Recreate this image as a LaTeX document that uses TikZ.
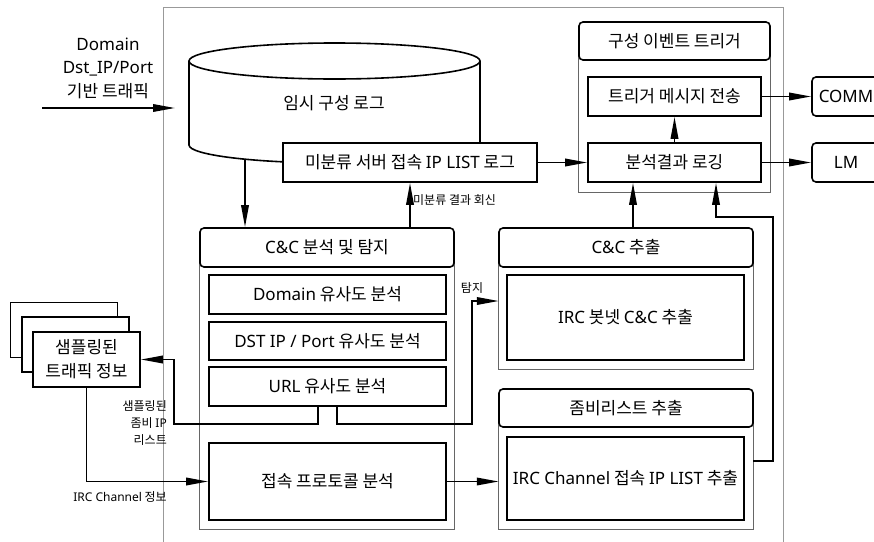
\documentclass[tikz,border=0pt]{standalone}
\usepackage{fontspec}
\setmainfont{Noto Sans CJK KR}
\newfontfamily\lat{Noto Sans}
\usetikzlibrary{arrows.meta,calc}
\begin{document}
\begin{tikzpicture}[x=1pt,y=-1pt,
  font=\fontsize{17}{22}\selectfont,
  blk/.style={line width=1.6pt},
  box/.style={draw, line width=1.6pt, fill=white, inner sep=0pt, align=center},
  hdr/.style={box, rounded corners=4pt},
  cont/.style={draw=black!60, line width=1.1pt},
  frame/.style={draw=black!40, line width=0.9pt},
  arr/.style={line width=1.8pt, -{Triangle[length=22pt,width=7.5pt]}},
  small/.style={font=\fontsize{12}{17}\selectfont, inner sep=0pt, align=center}
]
\useasboundingbox (0,0) rectangle (874,541);
\clip (0,0) rectangle (874,541);

% outer system frame (open at the bottom)
\draw[frame] (163,560) -- (163,7) -- (783,7) -- (783,560);

% temporary configuration log (cylinder)
\draw[blk, fill=white] (189,61) -- (189,145)
  arc[start angle=180, end angle=0, x radius=145.5, y radius=18] -- (480,61);
\draw[blk] (334.5,61) ellipse [x radius=145.5, y radius=18];
\node (cyl) at (334,103) {임시 구성 로그};
\coordinate (cylout) at (245,159.2);

\node[box, minimum width=254pt, minimum height=39pt] (logbox) at (410,162.5)
  {미분류 서버 접속 {\lat IP LIST} 로그};

% configuration event trigger group
\node[minimum width=191pt, minimum height=170pt, inner sep=0pt] (evt) at (674.5,107) {};
\draw[cont] ([yshift=-19pt]evt.north west) -- (evt.south west) -- (evt.south east) -- ([yshift=-19pt]evt.north east);
\node[hdr, minimum width=191pt, minimum height=38pt] (evthd) at (674.5,41) {구성 이벤트 트리거};
\node[box, minimum width=173pt, minimum height=39pt] (trig) at (674.5,96.5) {트리거 메시지 전송};
\node[box, minimum width=173pt, minimum height=39pt] (anlog) at (674.5,162.5) {분석결과 로깅};

% external modules
\node[hdr, minimum width=68pt, minimum height=39pt] (comm) at (846,96.5) {\lat COMM};
\node[hdr, minimum width=68pt, minimum height=39pt] (lm) at (846,162.5) {\lat LM};

% C&C analysis and detection group
\node[minimum width=254pt, minimum height=301pt, inner sep=0pt] (cc) at (327,378.5) {};
\draw[cont] ([yshift=-19.5pt]cc.north west) -- (cc.south west) -- (cc.south east) -- ([yshift=-19.5pt]cc.north east);
\node[hdr, minimum width=254pt, minimum height=39pt] (cchd) at (327,247.5) {{\lat C\&C} 분석 및 탐지};
\node[box, minimum width=237pt, minimum height=39pt] (domain) at (327.5,294.5) {{\lat Domain} 유사도 분석};
\node[box, minimum width=237pt, minimum height=38pt] (dst) at (327.5,341) {{\lat DST IP / Port} 유사도 분석};
\node[box, minimum width=237pt, minimum height=39pt] (url) at (327.5,386.5) {{\lat URL} 유사도 분석};
\node[box, minimum width=237pt, minimum height=77pt] (proto) at (327.5,481.5) {접속 프로토콜 분석};

% C&C extraction group
\node[minimum width=254pt, minimum height=141pt, inner sep=0pt] (cce) at (626,298.5) {};
\draw[cont] ([yshift=-19.5pt]cce.north west) -- (cce.south west) -- (cce.south east) -- ([yshift=-19.5pt]cce.north east);
\node[hdr, minimum width=254pt, minimum height=39pt] (ccehd) at (626,247.5) {{\lat C\&C} 추출};
\node[box, minimum width=237pt, minimum height=85pt] (irc) at (625.5,317.5) {{\lat IRC} 봇넷 {\lat C\&C} 추출};

% zombie list extraction group
\node[minimum width=254pt, minimum height=140pt, inner sep=0pt] (zl) at (626,459) {};
\draw[cont] ([yshift=-19pt]zl.north west) -- (zl.south west) -- (zl.south east) -- ([yshift=-19pt]zl.north east);
\node[hdr, minimum width=254pt, minimum height=38pt] (zlhd) at (626,408) {좀비리스트 추출};
\node[box, minimum width=237pt, minimum height=83pt] (chan) at (625.5,478.5) {{\lat IRC Channel} 접속 {\lat IP LIST} 추출};

% sampled traffic information (stacked sheets)
\node[box, minimum width=107pt, minimum height=55pt] (s3) at (64,330) {};
\node[box, minimum width=107pt, minimum height=55pt] (s2) at (75.5,344.5) {};
\node[box, minimum width=107pt, minimum height=55pt, font=\fontsize{17}{24}\selectfont] (s1) at (86.5,359.5) {샘플링된\\트래픽 정보};

% incoming traffic
\node[align=center, font=\fontsize{17}{23.5}\selectfont] (inlbl) at (108,68)
  {{\lat Domain}\\{\lat Dst\_IP/Port}\\기반 트래픽};
\coordinate (inS) at (42,108);
\coordinate (inE) at (175,108);
\draw[arr] (inS) -- (inE);

% connectors
\draw[arr] (cylout) -- (cylout |- cchd.north);
\draw[arr] (cchd.north -| logbox.south) -- (logbox.south);
\node[small, anchor=west] (retlbl) at (413,200) {미분류 결과 회신};
\draw[arr] (logbox.east) -- (anlog.west);
\draw[arr] (anlog.north) -- (trig.south);
\draw[arr] (trig.east) -- (comm.west);
\draw[arr] (anlog.east) -- (lm.west);
\draw[arr] ([xshift=7pt]ccehd.north) -- ([xshift=7pt]ccehd.north |- anlog.south);
\coordinate (zr) at (773,217);
\draw[arr] ([yshift=-2pt]zl.east) -| (zr) -| ([xshift=41.5pt]anlog.south);

\coordinate (c1) at (174,424);
\coordinate (c2) at (472,424);
\draw[arr] ([xshift=-9.5pt]url.south) |- (c1) |- (s1.east);
\node[small, anchor=east, align=right] (zlbl) at (167,423) {샘플링된\\좀비 {\lat IP}\\리스트};
\draw[arr] ([xshift=9.5pt]url.south) |- (c2) |- ([yshift=-2.5pt]cce.west);
\node[small] (detlbl) at (472,288) {탐지};
\draw[arr] (s1.south) |- (proto.west);
\node[small] (irclbl) at (120,497) {{\lat IRC Channel} 정보};
\draw[arr] (proto.east) -- (proto.east -| zl.west);
\end{tikzpicture}
\end{document}
